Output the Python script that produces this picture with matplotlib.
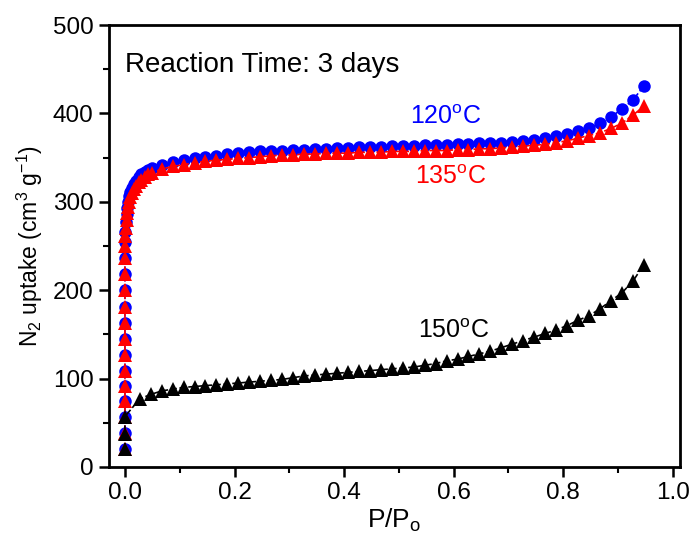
import numpy as np
import matplotlib
matplotlib.use("Agg")
import matplotlib.pyplot as plt

plt.rcParams['font.family'] = ['Liberation Sans', 'DejaVu Sans']
plt.rcParams['mathtext.fontset'] = 'custom'
plt.rcParams['mathtext.rm'] = 'Liberation Sans'
plt.rcParams['mathtext.it'] = 'Liberation Sans:italic'

# low pressure part (x, y) for 120 C and 135 C
low_x_120 = [0.0, 0.0, 0.0, 0.0, 0.0, 0.0, 0.0, 0.0, 0.0, 0.0, 0.0, 0.0, 0.0,
             0.001, 0.001, 0.002, 0.003, 0.004, 0.006, 0.008, 0.010, 0.013,
             0.016, 0.020, 0.025, 0.030, 0.036, 0.043, 0.050]
low_y_120 = [20, 38, 57, 75, 92, 109, 127, 145, 163, 181, 200, 218, 236,
             254, 266, 277, 286, 293, 300, 306, 311, 316, 320, 324, 328, 331,
             334, 336, 338]
low_x_135 = [0.0, 0.0, 0.0, 0.0, 0.0, 0.0, 0.0, 0.0, 0.0, 0.0, 0.0, 0.0, 0.0,
             0.001, 0.001, 0.002, 0.003, 0.004, 0.006, 0.008, 0.010, 0.013,
             0.016, 0.020, 0.025, 0.030, 0.036, 0.043, 0.050]
low_y_135 = [20, 38, 57, 75, 92, 109, 127, 145, 163, 181, 200, 218, 236,
             250, 261, 270, 279, 287, 294, 300, 305, 310, 314, 318, 322, 325,
             328, 331, 333]

# plateau part, common pressure points
p_high = [0.067, 0.087, 0.107, 0.127, 0.147, 0.167, 0.187, 0.207, 0.227,
          0.247, 0.267, 0.287, 0.307, 0.327, 0.347, 0.367, 0.387, 0.407,
          0.427, 0.447, 0.467, 0.487, 0.507, 0.527, 0.547, 0.567, 0.587,
          0.607, 0.627, 0.647, 0.667, 0.687, 0.707, 0.727, 0.747, 0.767,
          0.787, 0.807, 0.827, 0.847, 0.867, 0.887, 0.907, 0.927, 0.947]
high_120 = [342, 345, 347, 349, 351, 352, 354, 355, 356, 357, 358, 358, 359,
            359, 360, 360, 361, 361, 362, 362, 362, 363, 363, 363, 364, 364,
            364, 365, 365, 366, 366, 367, 368, 369, 370, 372, 374, 377, 380,
            383, 389, 396, 405, 415, 431]
high_135 = [337, 340, 342, 344, 346, 347, 348, 349, 350, 351, 352, 353, 353,
            354, 354, 355, 355, 355, 356, 356, 356, 357, 357, 357, 358, 358,
            358, 359, 359, 360, 360, 361, 362, 363, 364, 365, 367, 369, 372,
            375, 378, 383, 389, 398, 408]

# 150 C
x_150 = [0.0, 0.0, 0.0, 0.027, 0.047] + p_high
y_150 = [20, 37, 57, 77, 82,
         86, 88, 90, 91, 92, 93, 94, 95, 96, 97, 98, 99, 101, 103, 104, 105,
         106, 107, 108, 109, 110, 111, 112, 113, 115, 117, 120, 122, 125, 128,
         131, 135, 139, 143, 147, 151, 155, 160, 166, 171, 179, 188, 197, 210,
         229]

x_120 = low_x_120 + p_high
y_120 = low_y_120 + high_120
x_135 = low_x_135 + p_high
y_135 = low_y_135 + high_135

fig = plt.figure(figsize=(6.9, 5.5), dpi=100)
ax = fig.add_axes([0.158, 0.151, 0.8275, 0.8035])

ax.plot(x_120, y_120, '--', color='blue', lw=1.2, marker='o', ms=9,
        markeredgewidth=0, zorder=3)
ax.plot(x_135, y_135, '--', color='red', lw=1.2, marker='^', ms=10,
        markeredgewidth=0, zorder=4)
ax.plot(x_150, y_150, '--', color='black', lw=1.2, marker='^', ms=10,
        markeredgewidth=0, zorder=5)

ax.set_xlim(-0.029, 1.013)
ax.set_ylim(0, 500)
ax.set_xticks(np.arange(0, 1.01, 0.2))
ax.set_xticks(np.arange(0.1, 1.0, 0.2), minor=True)
ax.set_yticks(np.arange(0, 501, 100))
ax.set_yticks(np.arange(50, 500, 100), minor=True)
ax.set_xticklabels(['0.0', '0.2', '0.4', '0.6', '0.8', '1.0'])

for s in ax.spines.values():
    s.set_linewidth(2)
ax.tick_params(which='major', direction='out', length=7, width=1.8,
               labelsize=17.5, pad=4)
ax.tick_params(which='minor', direction='out', length=4, width=1.5)

ax.set_xlabel('P/P$_{\\rm o}$', fontsize=19, labelpad=2)
ax.set_ylabel('N$_2$ uptake (cm$^3$ g$^{-1}$)', fontsize=16.5, labelpad=6)

ax.text(0.0, 455, 'Reaction Time: 3 days', fontsize=20, va='center')
ax.text(0.52, 396, '120$^{\\rm o}$C', fontsize=18, color='blue', va='center')
ax.text(0.53, 328, '135$^{\\rm o}$C', fontsize=18, color='red', va='center')
ax.text(0.535, 154, '150$^{\\rm o}$C', fontsize=18, color='black', va='center')

fig.savefig('out.png', dpi=100)
